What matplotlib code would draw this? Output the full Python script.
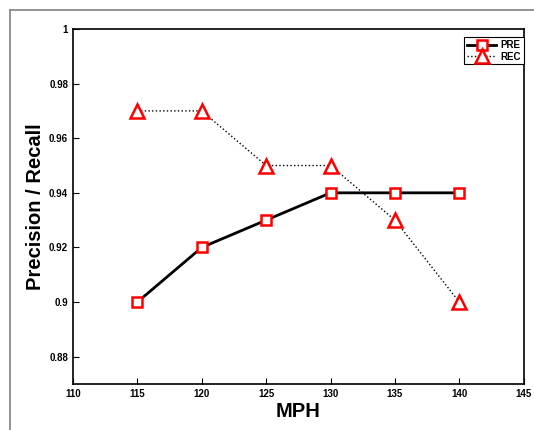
import matplotlib
matplotlib.use("Agg")
import matplotlib.pyplot as plt
from matplotlib.lines import Line2D

mph = [115, 120, 125, 130, 135, 140]
pre = [0.90, 0.92, 0.93, 0.94, 0.94, 0.94]
rec = [0.97, 0.97, 0.95, 0.95, 0.93, 0.90]
xticks = [110, 115, 120, 125, 130, 135, 140, 145]
yticks = [0.88, 0.90, 0.92, 0.94, 0.96, 0.98, 1.0]
ytick_labels = ["0.88", "0.9", "0.92", "0.94", "0.96", "0.98", "1"]

plt.rcParams['font.family'] = ['Liberation Sans', 'DejaVu Sans']
fig = plt.figure(figsize=(5.34, 4.30), dpi=100)
ax = fig.add_axes([0.1367, 0.107, 0.844, 0.8256])

ax.plot(mph, pre, color='black', lw=2, marker='s', ms=6.5, mfc='white',
        mec='red', mew=1.8, label='PRE')
ax.plot(mph, rec, color='black', lw=1, ls=':', marker='^', ms=10, mfc='white',
        mec='red', mew=1.8, label='REC')

ax.set_xlim(110, 145)
ax.set_ylim(0.87, 1.0)
ax.set_xticks(xticks)
ax.set_xticklabels([str(v) for v in xticks], fontsize=7, fontweight='bold')
ax.set_yticks(yticks)
ax.set_yticklabels(ytick_labels, fontsize=7, fontweight='bold')
ax.tick_params(direction='in', length=4, width=0.8, top=False, right=False)
for s in ax.spines.values():
    s.set_linewidth(1.2)

ax.set_xlabel('MPH', fontsize=14.5, fontweight='bold', labelpad=2)
ax.set_ylabel('Precision / Recall', fontsize=14.5, fontweight='bold', labelpad=3)

leg = ax.legend(loc='upper right', bbox_to_anchor=(1.0, 0.977),
                prop={'weight': 'bold', 'size': 7},
                frameon=True, fancybox=False, edgecolor='black',
                borderpad=0.3, handlelength=3.0, handletextpad=0.4,
                labelspacing=0.15, borderaxespad=0.0, framealpha=1)
leg.get_frame().set_linewidth(0.8)

fig.add_artist(Line2D([10/534, 10/534], [0, 1 - 10/430], transform=fig.transFigure,
                      color='gray', lw=1.2))
fig.add_artist(Line2D([10/534, 1], [1 - 10/430, 1 - 10/430], transform=fig.transFigure,
                      color='gray', lw=1.2))

fig.savefig('out.png', dpi=100)
